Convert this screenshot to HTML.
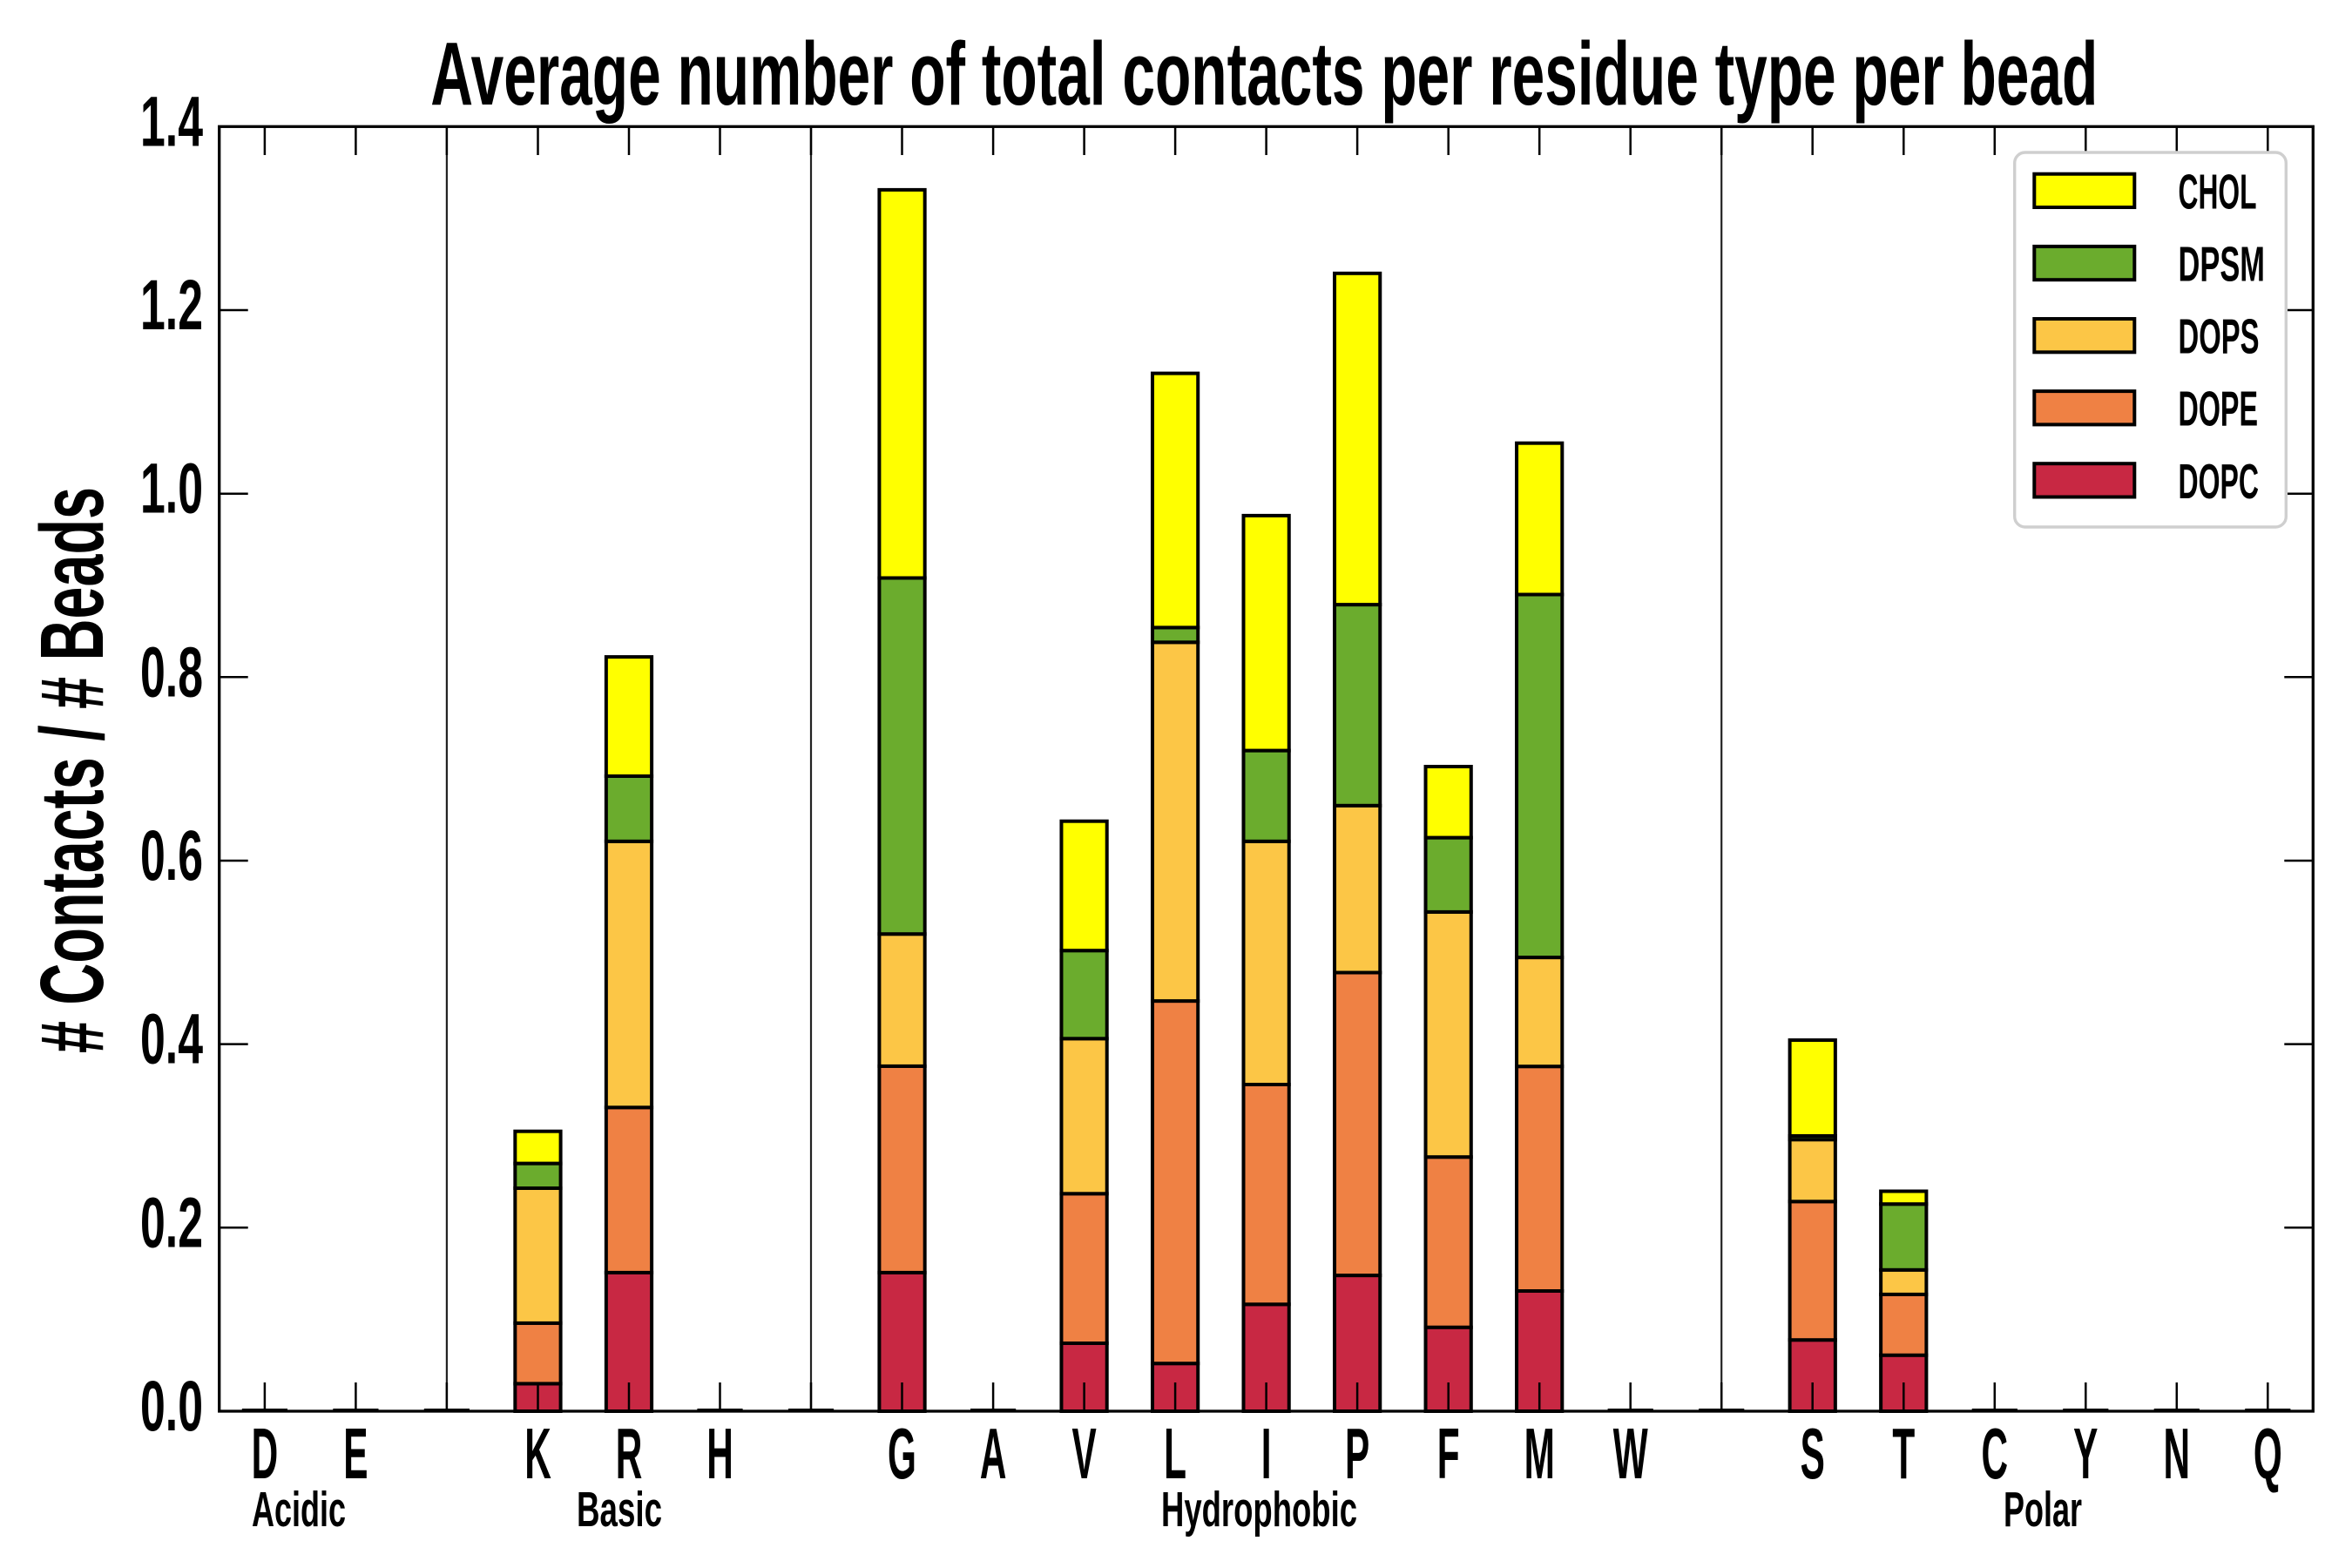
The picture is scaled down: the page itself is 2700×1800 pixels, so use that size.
<!DOCTYPE html>
<html>
<head>
<meta charset="utf-8">
<style>
html,body{margin:0;padding:0;background:#fff;}
svg{display:block;}
text{font-family:"Liberation Sans", sans-serif;font-weight:bold;fill:#000;}
</style>
</head>
<body>
<svg width="2700" height="1800" viewBox="0 0 2700 1800" xmlns="http://www.w3.org/2000/svg">
<rect x="0" y="0" width="2700" height="1800" fill="#fff"/>

<!-- Title -->
<text x="494.3" y="120" font-size="103" textLength="1914" lengthAdjust="spacingAndGlyphs">Average number of total contacts per residue type per bead</text>

<!-- Y label -->
<text transform="translate(118,884) rotate(-90)" text-anchor="middle" font-size="103" textLength="650" lengthAdjust="spacingAndGlyphs"># Contacts / # Beads</text>

<!-- separators -->
<g stroke="#222" stroke-width="2.2">
<line x1="512.9" y1="145" x2="512.9" y2="1620"/>
<line x1="931.0" y1="145" x2="931.0" y2="1620"/>
<line x1="1976.2" y1="145" x2="1976.2" y2="1620"/>
</g>

<!-- zero-height bars -->
<g stroke="#000" stroke-width="4">
<line x1="277.8" y1="1619" x2="330.0" y2="1619"/>
<line x1="382.3" y1="1619" x2="434.5" y2="1619"/>
<line x1="486.8" y1="1619" x2="539.0" y2="1619"/>
<line x1="800.4" y1="1619" x2="852.6" y2="1619"/>
<line x1="904.9" y1="1619" x2="957.1" y2="1619"/>
<line x1="1114.0" y1="1619" x2="1166.2" y2="1619"/>
<line x1="1845.6" y1="1619" x2="1897.8" y2="1619"/>
<line x1="1950.1" y1="1619" x2="2002.3" y2="1619"/>
<line x1="2263.7" y1="1619" x2="2315.9" y2="1619"/>
<line x1="2368.2" y1="1619" x2="2420.4" y2="1619"/>
<line x1="2472.7" y1="1619" x2="2524.9" y2="1619"/>
<line x1="2577.2" y1="1619" x2="2629.4" y2="1619"/>
</g>

<!-- Bars -->
<g stroke="#000" stroke-width="4">
<!-- K -->
<rect x="591.33" y="1588.4" width="52.26" height="31.6" fill="#C82843"/>
<rect x="591.33" y="1518.9" width="52.26" height="69.5" fill="#EF8144"/>
<rect x="591.33" y="1364.0" width="52.26" height="154.9" fill="#FCC646"/>
<rect x="591.33" y="1335.6" width="52.26" height="28.4" fill="#6BAC2D"/>
<rect x="591.33" y="1298.7" width="52.26" height="36.9" fill="#FFFF00"/>
<!-- R -->
<rect x="695.85" y="1460.9" width="52.26" height="159.1" fill="#C82843"/>
<rect x="695.85" y="1271.3" width="52.26" height="189.6" fill="#EF8144"/>
<rect x="695.85" y="965.8" width="52.26" height="305.5" fill="#FCC646"/>
<rect x="695.85" y="891.0" width="52.26" height="74.8" fill="#6BAC2D"/>
<rect x="695.85" y="754.1" width="52.26" height="136.9" fill="#FFFF00"/>
<!-- G -->
<rect x="1009.41" y="1460.9" width="52.26" height="159.1" fill="#C82843"/>
<rect x="1009.41" y="1223.9" width="52.26" height="237.0" fill="#EF8144"/>
<rect x="1009.41" y="1072.2" width="52.26" height="151.7" fill="#FCC646"/>
<rect x="1009.41" y="663.5" width="52.26" height="408.7" fill="#6BAC2D"/>
<rect x="1009.41" y="217.9" width="52.26" height="445.6" fill="#FFFF00"/>
<!-- V -->
<rect x="1218.45" y="1542.0" width="52.26" height="78.0" fill="#C82843"/>
<rect x="1218.45" y="1370.3" width="52.26" height="171.7" fill="#EF8144"/>
<rect x="1218.45" y="1192.3" width="52.26" height="178.0" fill="#FCC646"/>
<rect x="1218.45" y="1091.2" width="52.26" height="101.1" fill="#6BAC2D"/>
<rect x="1218.45" y="942.7" width="52.26" height="148.5" fill="#FFFF00"/>
<!-- L -->
<rect x="1322.97" y="1565.2" width="52.26" height="54.8" fill="#C82843"/>
<rect x="1322.97" y="1149.1" width="52.26" height="416.1" fill="#EF8144"/>
<rect x="1322.97" y="737.3" width="52.26" height="411.8" fill="#FCC646"/>
<rect x="1322.97" y="720.4" width="52.26" height="16.9" fill="#6BAC2D"/>
<rect x="1322.97" y="428.6" width="52.26" height="291.8" fill="#FFFF00"/>
<!-- I -->
<rect x="1427.49" y="1497.3" width="52.26" height="122.7" fill="#C82843"/>
<rect x="1427.49" y="1245.0" width="52.26" height="252.3" fill="#EF8144"/>
<rect x="1427.49" y="965.8" width="52.26" height="279.2" fill="#FCC646"/>
<rect x="1427.49" y="861.6" width="52.26" height="104.2" fill="#6BAC2D"/>
<rect x="1427.49" y="591.9" width="52.26" height="269.7" fill="#FFFF00"/>
<!-- P -->
<rect x="1532.01" y="1464.1" width="52.26" height="155.9" fill="#C82843"/>
<rect x="1532.01" y="1116.5" width="52.26" height="347.6" fill="#EF8144"/>
<rect x="1532.01" y="924.8" width="52.26" height="191.7" fill="#FCC646"/>
<rect x="1532.01" y="694.1" width="52.26" height="230.7" fill="#6BAC2D"/>
<rect x="1532.01" y="313.8" width="52.26" height="380.3" fill="#FFFF00"/>
<!-- F -->
<rect x="1636.53" y="1523.7" width="52.26" height="96.3" fill="#C82843"/>
<rect x="1636.53" y="1328.2" width="52.26" height="195.5" fill="#EF8144"/>
<rect x="1636.53" y="1046.9" width="52.26" height="281.3" fill="#FCC646"/>
<rect x="1636.53" y="961.6" width="52.26" height="85.3" fill="#6BAC2D"/>
<rect x="1636.53" y="880.0" width="52.26" height="81.6" fill="#FFFF00"/>
<!-- M -->
<rect x="1741.05" y="1482.0" width="52.26" height="138.0" fill="#C82843"/>
<rect x="1741.05" y="1224.2" width="52.26" height="257.8" fill="#EF8144"/>
<rect x="1741.05" y="1099.1" width="52.26" height="125.1" fill="#FCC646"/>
<rect x="1741.05" y="682.5" width="52.26" height="416.6" fill="#6BAC2D"/>
<rect x="1741.05" y="508.7" width="52.26" height="173.8" fill="#FFFF00"/>
<!-- S -->
<rect x="2054.61" y="1538.2" width="52.26" height="81.8" fill="#C82843"/>
<rect x="2054.61" y="1379.3" width="52.26" height="158.9" fill="#EF8144"/>
<rect x="2054.61" y="1308.2" width="52.26" height="71.1" fill="#FCC646"/>
<rect x="2054.61" y="1304.0" width="52.26" height="4.2" fill="#6BAC2D"/>
<rect x="2054.61" y="1194.0" width="52.26" height="110.0" fill="#FFFF00"/>
<!-- T -->
<rect x="2159.13" y="1555.7" width="52.26" height="64.3" fill="#C82843"/>
<rect x="2159.13" y="1485.9" width="52.26" height="69.8" fill="#EF8144"/>
<rect x="2159.13" y="1457.8" width="52.26" height="28.1" fill="#FCC646"/>
<rect x="2159.13" y="1382.2" width="52.26" height="75.6" fill="#6BAC2D"/>
<rect x="2159.13" y="1367.5" width="52.26" height="14.7" fill="#FFFF00"/>
</g>

<!-- Ticks -->
<g stroke="#000" stroke-width="2.5">
<!-- bottom & top x ticks -->
<line x1="303.9" y1="1620" x2="303.9" y2="1587"/><line x1="303.9" y1="145" x2="303.9" y2="178"/>
<line x1="408.4" y1="1620" x2="408.4" y2="1587"/><line x1="408.4" y1="145" x2="408.4" y2="178"/>
<line x1="512.9" y1="1620" x2="512.9" y2="1587"/><line x1="512.9" y1="145" x2="512.9" y2="178"/>
<line x1="617.5" y1="1620" x2="617.5" y2="1587"/><line x1="617.5" y1="145" x2="617.5" y2="178"/>
<line x1="722.0" y1="1620" x2="722.0" y2="1587"/><line x1="722.0" y1="145" x2="722.0" y2="178"/>
<line x1="826.5" y1="1620" x2="826.5" y2="1587"/><line x1="826.5" y1="145" x2="826.5" y2="178"/>
<line x1="931.0" y1="1620" x2="931.0" y2="1587"/><line x1="931.0" y1="145" x2="931.0" y2="178"/>
<line x1="1035.5" y1="1620" x2="1035.5" y2="1587"/><line x1="1035.5" y1="145" x2="1035.5" y2="178"/>
<line x1="1140.1" y1="1620" x2="1140.1" y2="1587"/><line x1="1140.1" y1="145" x2="1140.1" y2="178"/>
<line x1="1244.6" y1="1620" x2="1244.6" y2="1587"/><line x1="1244.6" y1="145" x2="1244.6" y2="178"/>
<line x1="1349.1" y1="1620" x2="1349.1" y2="1587"/><line x1="1349.1" y1="145" x2="1349.1" y2="178"/>
<line x1="1453.6" y1="1620" x2="1453.6" y2="1587"/><line x1="1453.6" y1="145" x2="1453.6" y2="178"/>
<line x1="1558.1" y1="1620" x2="1558.1" y2="1587"/><line x1="1558.1" y1="145" x2="1558.1" y2="178"/>
<line x1="1662.7" y1="1620" x2="1662.7" y2="1587"/><line x1="1662.7" y1="145" x2="1662.7" y2="178"/>
<line x1="1767.2" y1="1620" x2="1767.2" y2="1587"/><line x1="1767.2" y1="145" x2="1767.2" y2="178"/>
<line x1="1871.7" y1="1620" x2="1871.7" y2="1587"/><line x1="1871.7" y1="145" x2="1871.7" y2="178"/>
<line x1="1976.2" y1="1620" x2="1976.2" y2="1587"/><line x1="1976.2" y1="145" x2="1976.2" y2="178"/>
<line x1="2080.7" y1="1620" x2="2080.7" y2="1587"/><line x1="2080.7" y1="145" x2="2080.7" y2="178"/>
<line x1="2185.3" y1="1620" x2="2185.3" y2="1587"/><line x1="2185.3" y1="145" x2="2185.3" y2="178"/>
<line x1="2289.8" y1="1620" x2="2289.8" y2="1587"/><line x1="2289.8" y1="145" x2="2289.8" y2="178"/>
<line x1="2394.3" y1="1620" x2="2394.3" y2="1587"/><line x1="2394.3" y1="145" x2="2394.3" y2="178"/>
<line x1="2498.8" y1="1620" x2="2498.8" y2="1587"/><line x1="2498.8" y1="145" x2="2498.8" y2="178"/>
<line x1="2603.3" y1="1620" x2="2603.3" y2="1587"/><line x1="2603.3" y1="145" x2="2603.3" y2="178"/>
<!-- y ticks left & right -->
<line x1="251.7" y1="1409.3" x2="284.7" y2="1409.3"/><line x1="2655.3" y1="1409.3" x2="2622.3" y2="1409.3"/>
<line x1="251.7" y1="1198.6" x2="284.7" y2="1198.6"/><line x1="2655.3" y1="1198.6" x2="2622.3" y2="1198.6"/>
<line x1="251.7" y1="988.0" x2="284.7" y2="988.0"/><line x1="2655.3" y1="988.0" x2="2622.3" y2="988.0"/>
<line x1="251.7" y1="777.3" x2="284.7" y2="777.3"/><line x1="2655.3" y1="777.3" x2="2622.3" y2="777.3"/>
<line x1="251.7" y1="566.7" x2="284.7" y2="566.7"/><line x1="2655.3" y1="566.7" x2="2622.3" y2="566.7"/>
<line x1="251.7" y1="356.0" x2="284.7" y2="356.0"/><line x1="2655.3" y1="356.0" x2="2622.3" y2="356.0"/>
</g>

<!-- Axes frame -->
<rect x="251.7" y="145.3" width="2403.6" height="1474.7" fill="none" stroke="#000" stroke-width="3.3"/>

<!-- Y tick labels -->
<g font-size="82">
<text x="161" y="1642" textLength="72" lengthAdjust="spacingAndGlyphs">0.0</text>
<text x="161" y="1431.3" textLength="72" lengthAdjust="spacingAndGlyphs">0.2</text>
<text x="161" y="1220.6" textLength="72" lengthAdjust="spacingAndGlyphs">0.4</text>
<text x="161" y="1010" textLength="72" lengthAdjust="spacingAndGlyphs">0.6</text>
<text x="161" y="799.3" textLength="72" lengthAdjust="spacingAndGlyphs">0.8</text>
<text x="161" y="588.7" textLength="72" lengthAdjust="spacingAndGlyphs">1.0</text>
<text x="161" y="378" textLength="72" lengthAdjust="spacingAndGlyphs">1.2</text>
<text x="161" y="167.3" textLength="72" lengthAdjust="spacingAndGlyphs">1.4</text>
</g>

<!-- X tick labels -->
<g font-size="83" text-anchor="middle">
<text transform="translate(303.9,1697) scale(0.51,1)">D</text>
<text transform="translate(408.4,1697) scale(0.51,1)">E</text>
<text transform="translate(617.5,1697) scale(0.51,1)">K</text>
<text transform="translate(722.0,1697) scale(0.51,1)">R</text>
<text transform="translate(826.5,1697) scale(0.51,1)">H</text>
<text transform="translate(1035.5,1697) scale(0.51,1)">G</text>
<text transform="translate(1140.1,1697) scale(0.51,1)">A</text>
<text transform="translate(1244.6,1697) scale(0.51,1)">V</text>
<text transform="translate(1349.1,1697) scale(0.51,1)">L</text>
<text transform="translate(1453.6,1697) scale(0.51,1)">I</text>
<text transform="translate(1558.1,1697) scale(0.51,1)">P</text>
<text transform="translate(1662.7,1697) scale(0.51,1)">F</text>
<text transform="translate(1767.2,1697) scale(0.51,1)">M</text>
<text transform="translate(1871.7,1697) scale(0.51,1)">W</text>
<text transform="translate(2080.7,1697) scale(0.51,1)">S</text>
<text transform="translate(2185.3,1697) scale(0.51,1)">T</text>
<text transform="translate(2289.8,1697) scale(0.51,1)">C</text>
<text transform="translate(2394.3,1697) scale(0.51,1)">Y</text>
<text transform="translate(2498.8,1697) scale(0.51,1)">N</text>
<text transform="translate(2603.3,1697) scale(0.51,1)">Q</text>
</g>

<!-- Group labels -->
<g font-size="57">
<text x="289" y="1752" textLength="108" lengthAdjust="spacingAndGlyphs">Acidic</text>
<text x="662" y="1752" textLength="98" lengthAdjust="spacingAndGlyphs">Basic</text>
<text x="1333" y="1752" textLength="225" lengthAdjust="spacingAndGlyphs">Hydrophobic</text>
<text x="2300" y="1752" textLength="90" lengthAdjust="spacingAndGlyphs">Polar</text>
</g>

<!-- Legend -->
<rect x="2312.7" y="175" width="311.6" height="430" rx="12" ry="12" fill="#fff" stroke="#cfcfcf" stroke-width="3.4"/>
<g stroke="#000" stroke-width="4">
<rect x="2335.3" y="199.7" width="115" height="38.3" fill="#FFFF00"/>
<rect x="2335.3" y="282.9" width="115" height="38.3" fill="#6BAC2D"/>
<rect x="2335.3" y="366.0" width="115" height="38.3" fill="#FCC646"/>
<rect x="2335.3" y="449.1" width="115" height="38.3" fill="#EF8144"/>
<rect x="2335.3" y="532.2" width="115" height="38.3" fill="#C82843"/>
</g>
<g font-size="57">
<text x="2500.5" y="239.3" textLength="90" lengthAdjust="spacingAndGlyphs">CHOL</text>
<text x="2500.5" y="322.5" textLength="99.5" lengthAdjust="spacingAndGlyphs">DPSM</text>
<text x="2500.5" y="405.6" textLength="93" lengthAdjust="spacingAndGlyphs">DOPS</text>
<text x="2500.5" y="488.7" textLength="91.5" lengthAdjust="spacingAndGlyphs">DOPE</text>
<text x="2500.5" y="571.8" textLength="92.5" lengthAdjust="spacingAndGlyphs">DOPC</text>
</g>
</svg>
</body>
</html>
